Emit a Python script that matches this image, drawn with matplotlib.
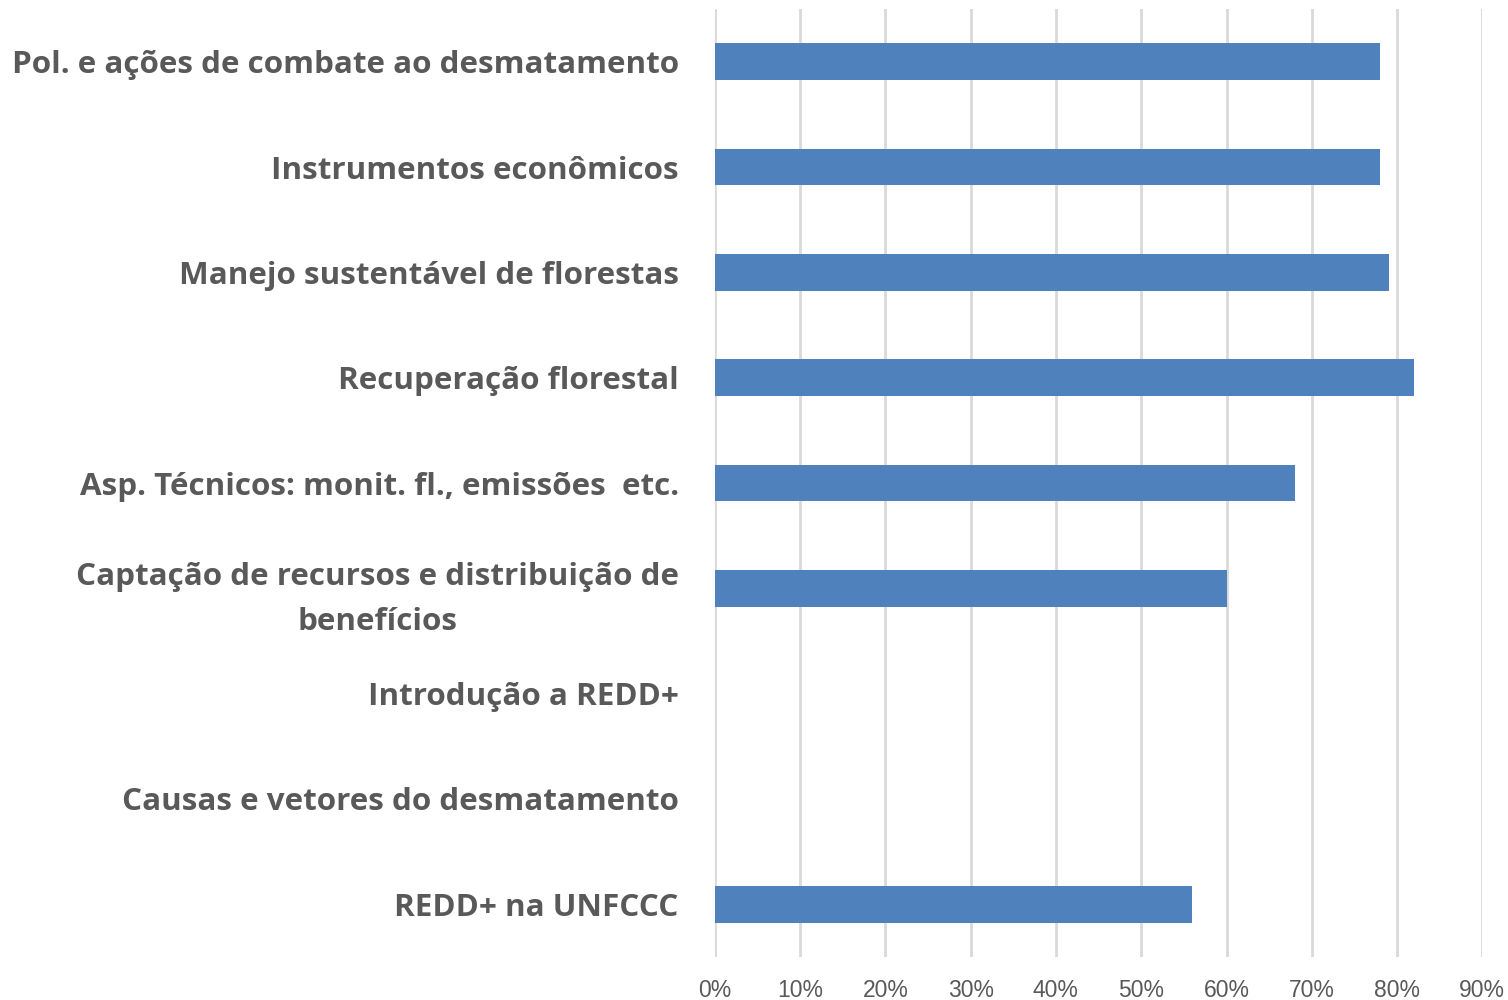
import matplotlib
matplotlib.use("Agg")
import matplotlib.pyplot as plt
from matplotlib.ticker import FuncFormatter

categories = [
    "Pol. e ações de combate ao desmatamento",
    "Instrumentos econômicos",
    "Manejo sustentável de florestas",
    "Recuperação florestal",
    "Asp. Técnicos: monit. fl., emissões  etc.",
    "Captação de recursos e distribuição de\nbenefícios",
    "Introdução a REDD+",
    "Causas e vetores do desmatamento",
    "REDD+ na UNFCCC",
]
values = [0.78, 0.78, 0.79, 0.82, 0.68, 0.60, 0.0, 0.0, 0.56]
xticks = [0, 0.1, 0.2, 0.3, 0.4, 0.5, 0.6, 0.7, 0.8, 0.9]

fig = plt.figure(figsize=(15.08, 10), dpi=100)
ax = fig.add_axes([0.474, 0.043, 0.509, 0.948])

ypos = list(range(len(categories)))
ax.barh(ypos, values, height=0.35, color="#4F81BD", linewidth=0, zorder=3)
ax.set_ylim(len(categories) - 0.5, -0.5)
ax.set_xlim(0, 0.9)
ax.set_xticks(xticks)
ax.xaxis.set_major_formatter(FuncFormatter(lambda v, p: f"{round(v*100)}%"))
ax.grid(axis="x", color="#D9D9D9", linewidth=2, zorder=0)
for s in ax.spines.values():
    s.set_visible(False)
ax.tick_params(axis="x", length=0, pad=16, labelsize=16.5, labelcolor="#595959")
for t in ax.get_xticklabels():
    t.set_fontfamily("Liberation Sans")
ax.tick_params(axis="y", length=0, pad=26)
ax.set_yticks(ypos)
ax.set_yticklabels(categories, fontfamily="Open Sans", fontweight="bold", fontsize=22.6, color="#595959")
for t in ax.get_yticklabels():
    t.set_multialignment("center")
    t.set_linespacing(1.68)

fig.savefig("out.png", dpi=100)
